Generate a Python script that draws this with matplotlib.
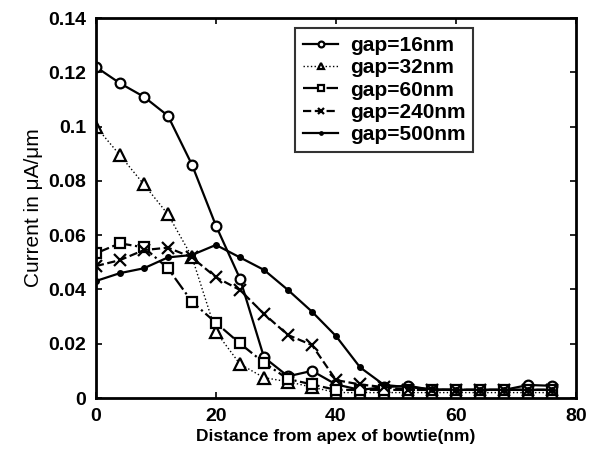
import matplotlib
matplotlib.use("Agg")
import matplotlib.pyplot as plt
import numpy as np

distance = [0, 4, 8, 12, 16, 20, 24, 28, 32, 36, 40, 44, 48, 52, 56, 60, 64, 68, 72, 76]
gap16 = [0.122, 0.116, 0.111, 0.104, 0.086, 0.0635, 0.044, 0.015, 0.008, 0.010, 0.005, 0.003,
         0.004, 0.0045, 0.003, 0.003, 0.003, 0.003, 0.0048, 0.0045]
gap32 = [0.100, 0.0895, 0.0787, 0.0677, 0.052, 0.0244, 0.0125, 0.0075, 0.006, 0.004, 0.002, 0.002,
         0.002, 0.002, 0.002, 0.002, 0.002, 0.002, 0.002, 0.002]
gap60 = [0.0533, 0.057, 0.0555, 0.0478, 0.0355, 0.0277, 0.0201, 0.013, 0.007, 0.005, 0.003, 0.003,
         0.003, 0.003, 0.003, 0.003, 0.003, 0.003, 0.003, 0.003]
gap240 = [0.0486, 0.0508, 0.0545, 0.0554, 0.0518, 0.0445, 0.0398, 0.031, 0.0232, 0.0195, 0.0066, 0.005,
          0.004, 0.003, 0.003, 0.003, 0.003, 0.003, 0.003, 0.003]
gap500 = [0.0431, 0.046, 0.0478, 0.0518, 0.0527, 0.0564, 0.0518, 0.0472, 0.0398, 0.0318, 0.0228, 0.0113,
          0.0048, 0.004, 0.0032, 0.003, 0.003, 0.003, 0.003, 0.003]
labels = ["gap=16nm", "gap=32nm", "gap=60nm", "gap=240nm", "gap=500nm"]
xticks = [0, 20, 40, 60, 80]
yticks = [0, 0.02, 0.04, 0.06, 0.08, 0.1, 0.12, 0.14]
yticklabels = ["0", "0.02", "0.04", "0.06", "0.08", "0.1", "0.12", "0.14"]

plt.rcParams['font.family'] = ['Liberation Sans', 'DejaVu Sans']

fig = plt.figure(figsize=(5.99, 4.51), dpi=100)
ax = fig.add_axes([0.160, 0.1175, 0.802, 0.8425])

ax.plot(distance, gap16, '-', color='black', lw=1.6, marker='o', ms=7, mfc='white', mew=1.6, label=labels[0])
ax.plot(distance, gap32, ':', color='black', lw=1.0, marker='^', ms=8, mfc='white', mew=1.6, label=labels[1])
ax.plot(distance, gap60, '-.', color='black', lw=1.6, marker='s', ms=6.5, mfc='white', mew=1.6, label=labels[2])
ax.plot(distance, gap240, '--', color='black', lw=1.6, marker='x', ms=8, mew=1.6, label=labels[3])
ax.plot(distance, gap500, '-', color='black', lw=1.6, marker='.', ms=8, label=labels[4])

ax.set_xlim(0, 80)
ax.set_ylim(0, 0.14)
ax.set_xticks(xticks)
ax.set_yticks(yticks)
ax.set_yticklabels(yticklabels)
ax.tick_params(direction='in', length=4, width=1.2, top=True, right=True, labelsize=14, pad=7)
for lab in ax.get_xticklabels() + ax.get_yticklabels():
    lab.set_fontweight('bold')
for sp in ax.spines.values():
    sp.set_linewidth(2)

ax.set_xlabel("Distance from apex of bowtie(nm)", fontsize=12.5, fontweight='bold', labelpad=3)
ax.set_ylabel("Current in μA/μm", fontsize=15, labelpad=4)

leg = ax.legend(loc='upper left', bbox_to_anchor=(0.4146, 0.9737), borderaxespad=0, frameon=True,
                fancybox=False, edgecolor='black', handlelength=1.7,
                prop={'size': 15, 'weight': 'bold'},
                borderpad=0.38, labelspacing=0.16, handletextpad=0.55, markerscale=0.6)
leg.get_frame().set_linewidth(1.5)

fig.savefig("out.png", dpi=100)
